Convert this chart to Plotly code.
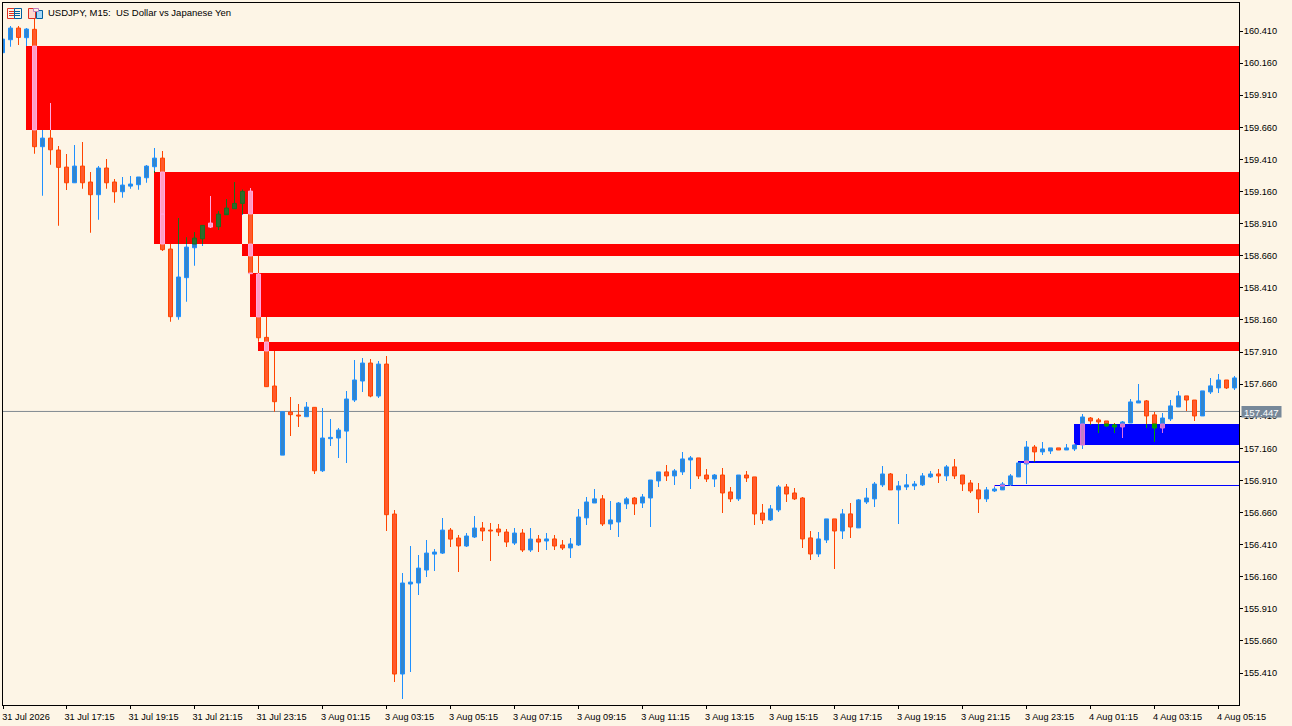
import plotly.graph_objects as go

# USDJPY M15 candles
opens = [
    160.241, 160.342, 160.433, 160.358, 160.423, 159.509, 159.576, 159.483, 159.350, 159.228,
    159.358, 159.234, 159.135, 159.343, 159.234, 159.158, 159.202, 159.213, 159.267, 159.353,
    159.420, 158.712, 158.185, 158.489, 158.722, 158.792, 158.914, 158.886, 158.979, 159.026,
    159.067, 159.163, 158.517, 158.024, 157.645, 157.107, 157.442, 157.419, 157.406, 157.479,
    156.985, 157.235, 157.240, 157.294, 157.536, 157.684, 157.824, 157.567, 157.816, 156.648,
    155.402, 156.103, 156.111, 156.212, 156.336, 156.344, 156.523, 156.461, 156.399, 156.469,
    156.539, 156.523, 156.531, 156.508, 156.422, 156.500, 156.368, 156.453, 156.438, 156.454,
    156.407, 156.384, 156.407, 156.618, 156.734, 156.766, 156.571, 156.586, 156.727, 156.773,
    156.734, 156.773, 156.906, 156.976, 156.945, 156.976, 157.069, 157.085, 156.952, 156.921,
    156.952, 156.820, 156.766, 156.952, 156.937, 156.656, 156.602, 156.680, 156.859, 156.812,
    156.773, 156.462, 156.337, 156.446, 156.610, 156.516, 156.649, 156.540, 156.742, 156.766,
    156.875, 156.960, 156.836, 156.859, 156.867, 156.875, 156.937, 156.960, 156.945, 157.015,
    156.952, 156.890, 156.836, 156.766, 156.828, 156.836, 156.875, 156.937, 157.038, 157.170,
    157.132, 157.139, 157.163, 157.147, 157.155, 157.186, 157.396, 157.381, 157.373, 157.342,
    157.326, 157.357, 157.513, 157.529, 157.420, 157.318, 157.389, 157.482, 157.568, 157.536,
    157.412, 157.599, 157.630, 157.692, 157.630,
]
closes = [
    160.347, 160.433, 160.360, 160.425, 159.509, 159.576, 159.485, 159.348, 159.228, 159.358,
    159.228, 159.135, 159.343, 159.228, 159.158, 159.210, 159.218, 159.273, 159.358, 159.420,
    158.707, 158.185, 158.494, 158.727, 158.797, 158.896, 158.883, 158.984, 159.031, 159.067,
    159.161, 158.520, 158.021, 157.640, 157.523, 157.445, 157.422, 157.411, 157.481, 156.985,
    157.240, 157.245, 157.302, 157.544, 157.692, 157.824, 157.567, 157.816, 156.643, 155.402,
    156.111, 156.118, 156.227, 156.344, 156.352, 156.523, 156.453, 156.399, 156.477, 156.539,
    156.516, 156.516, 156.508, 156.430, 156.500, 156.368, 156.453, 156.430, 156.454, 156.399,
    156.384, 156.415, 156.625, 156.742, 156.766, 156.571, 156.602, 156.734, 156.766, 156.727,
    156.781, 156.913, 156.976, 156.945, 156.984, 157.077, 157.085, 156.945, 156.921, 156.952,
    156.812, 156.766, 156.952, 156.929, 156.649, 156.602, 156.688, 156.859, 156.804, 156.766,
    156.454, 156.337, 156.454, 156.610, 156.516, 156.649, 156.547, 156.758, 156.773, 156.882,
    156.960, 156.836, 156.867, 156.875, 156.882, 156.945, 156.960, 156.945, 157.015, 156.945,
    156.882, 156.828, 156.766, 156.836, 156.843, 156.882, 156.945, 157.046, 157.170, 157.132,
    157.155, 157.163, 157.147, 157.163, 157.186, 157.404, 157.373, 157.365, 157.334, 157.326,
    157.365, 157.521, 157.529, 157.412, 157.318, 157.396, 157.490, 157.568, 157.536, 157.412,
    157.607, 157.646, 157.692, 157.630, 157.708,
]
highs = [
    160.347, 160.449, 160.449, 160.433, 160.508, 159.639, 159.849, 159.514, 159.452, 159.522,
    159.545, 159.311, 159.358, 159.413, 159.257, 159.273, 159.280, 159.273, 159.366, 159.498,
    159.475, 158.751, 158.953, 158.803, 158.844, 158.896, 159.125, 159.008, 159.101, 159.234,
    159.176, 159.187, 158.657, 158.183, 157.917, 157.445, 157.559, 157.505, 157.520, 157.479,
    157.474, 157.388, 157.318, 157.606, 157.847, 157.863, 157.855, 157.840, 157.879, 156.679,
    156.189, 156.399, 156.329, 156.446, 156.375, 156.617, 156.539, 156.484, 156.500, 156.632,
    156.586, 156.578, 156.570, 156.531, 156.539, 156.531, 156.539, 156.484, 156.501, 156.485,
    156.446, 156.462, 156.688, 156.781, 156.843, 156.797, 156.750, 156.742, 156.781, 156.781,
    156.804, 156.913, 156.976, 157.030, 156.999, 157.132, 157.100, 157.085, 156.999, 156.960,
    157.007, 156.859, 156.952, 156.984, 156.937, 156.727, 156.719, 156.875, 156.882, 156.851,
    156.781, 156.516, 156.508, 156.610, 156.610, 156.688, 156.734, 156.766, 156.851, 156.898,
    157.023, 156.968, 156.906, 156.960, 156.906, 156.968, 156.984, 156.999, 157.030, 157.077,
    156.952, 156.913, 156.890, 156.859, 156.867, 156.898, 156.960, 157.046, 157.217, 157.186,
    157.209, 157.163, 157.163, 157.194, 157.194, 157.427, 157.404, 157.396, 157.373, 157.350,
    157.373, 157.544, 157.661, 157.536, 157.443, 157.435, 157.536, 157.607, 157.568, 157.536,
    157.607, 157.708, 157.739, 157.692, 157.723,
]
lows = [
    160.241, 160.288, 160.301, 160.293, 159.454, 159.127, 159.369, 158.894, 159.171, 159.228,
    159.182, 158.839, 158.940, 159.182, 159.073, 159.112, 159.182, 159.174, 159.228, 159.306,
    158.696, 158.146, 158.161, 158.302, 158.582, 158.743, 158.875, 158.860, 158.979, 159.026,
    158.977, 158.520, 157.990, 157.640, 157.445, 157.107, 157.255, 157.326, 157.406, 156.960,
    156.975, 157.178, 157.084, 157.045, 157.520, 157.598, 157.557, 157.551, 156.516, 155.340,
    155.207, 155.418, 156.017, 156.157, 156.204, 156.336, 156.391, 156.196, 156.391, 156.461,
    156.438, 156.282, 156.477, 156.391, 156.407, 156.352, 156.352, 156.352, 156.368, 156.368,
    156.368, 156.306, 156.399, 156.563, 156.734, 156.555, 156.524, 156.470, 156.688, 156.641,
    156.695, 156.547, 156.859, 156.906, 156.875, 156.952, 156.843, 156.921, 156.898, 156.859,
    156.656, 156.742, 156.750, 156.898, 156.563, 156.571, 156.594, 156.664, 156.742, 156.758,
    156.384, 156.290, 156.314, 156.423, 156.220, 156.454, 156.462, 156.540, 156.727, 156.703,
    156.859, 156.836, 156.571, 156.836, 156.836, 156.867, 156.929, 156.890, 156.906, 156.921,
    156.828, 156.812, 156.656, 156.742, 156.820, 156.836, 156.867, 156.937, 156.882, 157.054,
    157.108, 157.116, 157.147, 157.147, 157.139, 157.155, 157.342, 157.279, 157.326, 157.279,
    157.241, 157.357, 157.513, 157.318, 157.209, 157.279, 157.373, 157.482, 157.451, 157.373,
    157.412, 157.583, 157.591, 157.622, 157.614,
]

# one tick every 8 bars
time_ticks = [
    "31 Jul 2026", "31 Jul 17:15", "31 Jul 19:15", "31 Jul 21:15", "31 Jul 23:15",
    "3 Aug 01:15", "3 Aug 03:15", "3 Aug 05:15", "3 Aug 07:15", "3 Aug 09:15",
    "3 Aug 11:15", "3 Aug 13:15", "3 Aug 15:15", "3 Aug 17:15", "3 Aug 19:15",
    "3 Aug 21:15", "3 Aug 23:15", "4 Aug 01:15", "4 Aug 03:15", "4 Aug 05:15",
]
price_ticks = [160.41, 160.16, 159.91, 159.66, 159.41, 159.16, 158.91, 158.66, 158.41, 158.16,
               157.91, 157.66, 157.41, 157.16, 156.91, 156.66, 156.41, 156.16, 155.91, 155.66, 155.41]
last_price = 157.447

# zones: first bar, last bar (None = runs to the right edge), top, bottom, kind
zone_start = [3, 19, 19, 30, 31, 32, 134, 127, 124]
zone_end = [None, None, 30, None, None, None, None, None, None]
zone_top = [160.293, 159.312, 159.312, 158.751, 158.525, 157.988, 157.349, 157.061, 156.874]
zone_bottom = [159.639, 158.985, 158.751, 158.658, 158.183, 157.918, 157.186, 157.046, 156.866]
zone_kind = ["red", "red", "red", "red", "red", "red", "blue", "blue", "blue"]

# the terminal xors candles with the zones, so colours change inside them
BG = "#FDF5E6"
FILL = {
    (True, None): "#3385CC", (False, None): "#FF5A2D",
    (True, "red"): "#2E6B2E", (False, "red"): "#FF9CC0",
    (True, "blue"): "#C47CC4", (False, "blue"): "#009A00",
}
EDGE = {
    (True, None): "#1E90FF", (False, None): "#FF4500",
    (True, "red"): "#1E6E1E", (False, "red"): "#FFA8E0",
    (True, "blue"): "#E070E0", (False, "blue"): "#00A000",
}

W, H = 1292, 726
L, R, T, B = 3, 53, 3, 21
PX_PER_BAR = 8
PX_PER_UNIT = 128.4
x0 = (L - 2.5) / PX_PER_BAR
x1 = x0 + (W - R - L) / PX_PER_BAR
y1 = 160.41 + (31 - T) / PX_PER_UNIT
y0 = 160.41 - (H - B - 31) / PX_PER_UNIT


def px(x):
    return (x - L) / (W - R - L)


def py(y):
    return 1 - (y - T) / (H - B - T)


def split_span(lo, hi, bar):
    # cut a price span at the zone edges and tag every piece with its zone kind
    active = [i for i in range(len(zone_kind))
              if bar >= zone_start[i] and (zone_end[i] is None or bar < zone_end[i])]
    cuts = {lo, hi}
    for i in active:
        for edge in (zone_top[i], zone_bottom[i]):
            if lo < edge < hi:
                cuts.add(edge)
    cuts = sorted(cuts)
    if len(cuts) == 1:
        cuts = [lo, hi]
    pieces = []
    for a, b in zip(cuts[:-1], cuts[1:]):
        mid = (a + b) / 2
        kind = None
        for i in active:
            if zone_bottom[i] <= mid <= zone_top[i]:
                kind = zone_kind[i]
        pieces.append((a, b, kind))
    return pieces


wicks = {k: ([], [], []) for k in FILL}
bodies = {k: ([], [], []) for k in FILL}
for bar, (o, h, l, c) in enumerate(zip(opens, highs, lows, closes)):
    up = c >= o
    for a, b, kind in split_span(l, h, bar):
        wicks[(up, kind)][0].append(bar)
        wicks[(up, kind)][1].append(a)
        wicks[(up, kind)][2].append(b - a)
    for a, b, kind in split_span(min(o, c), max(o, c), bar):
        bodies[(up, kind)][0].append(bar)
        bodies[(up, kind)][1].append(a)
        bodies[(up, kind)][2].append(b - a)

fig = go.Figure()
for key, (xs, base, size) in wicks.items():
    fig.add_trace(go.Bar(x=xs, base=base, y=size, width=1 / PX_PER_BAR, hoverinfo="skip",
                         marker=dict(color=EDGE[key], line=dict(width=0))))
for key, (xs, base, size) in bodies.items():
    fig.add_trace(go.Bar(x=xs, base=base, y=size, width=4 / PX_PER_BAR, hoverinfo="skip",
                         marker=dict(color=FILL[key], line=dict(color=EDGE[key], width=1))))

colours = {"red": "#FF0000", "blue": "#0000FF"}
for i, kind in enumerate(zone_kind):
    fig.add_shape(type="rect", layer="below", line_width=0, fillcolor=colours[kind],
                  x0=zone_start[i] - 1 / 16, x1=x1 if zone_end[i] is None else zone_end[i] - 1 / 16,
                  y0=zone_bottom[i], y1=zone_top[i])

# bid line and its tag on the price scale
fig.add_shape(type="line", layer="below", xref="paper", x0=0, x1=1, y0=last_price, y1=last_price,
              line=dict(color="#808890", width=1))
fig.add_shape(type="rect", xref="paper", x0=px(1241.5), x1=px(1281.5), yref="paper",
              y0=py(417.5), y1=py(406), line_width=0, fillcolor="#778899")
fig.add_annotation(xref="paper", yref="paper", x=px(1242), y=py(412), text="157.447", showarrow=False,
                   xanchor="left", yanchor="middle", font=dict(color="white", size=9.6, family="Liberation Sans"))

fig.add_annotation(xref="paper", yref="paper", x=px(46), y=py(13), text="USDJPY, M15:  US Dollar vs Japanese Yen",
                   showarrow=False, xanchor="left", yanchor="middle",
                   font=dict(color="black", size=9.5, family="Liberation Sans"))


def icon_rect(a, b, c, d, fill, line):
    fig.add_shape(type="rect", xref="paper", yref="paper", x0=px(a), x1=px(b), y0=py(d), y1=py(c),
                  fillcolor=fill, line=dict(color=line, width=1))


def icon_line(a, b, y, colour):
    fig.add_shape(type="line", xref="paper", yref="paper", x0=px(a), x1=px(b), y0=py(y), y1=py(y),
                  line=dict(color=colour, width=1))


# the two little toolbar icons in the corner
icon_rect(7.5, 14.5, 8.5, 18.5, BG, "#E03020")
icon_rect(14.5, 21.5, 8.5, 18.5, BG, "#0060A0")
for yy in (11.5, 13.5, 15.5):
    icon_line(9, 14, yy, "#E03020")
    icon_line(15, 20, yy, "#0060A0")
icon_rect(28.5, 35.5, 8.5, 18.5, "#FFD8D0", "#E03020")
icon_rect(36.5, 42.5, 10.5, 18.5, "#A8D8F8", "#0060A0")
icon_rect(33.5, 38.5, 8.5, 11.5, BG, "#C080C0")

# bottom frame of the chart window
fig.add_shape(type="line", xref="paper", yref="paper", x0=0, x1=1, y0=py(705.5), y1=py(705.5),
              line=dict(color="black", width=1))

# first tick sits just inside the left edge, bar 0 is half a pixel off the plot
tick_positions = [max(v, x0 + 0.001) for v in range(0, PX_PER_BAR * len(time_ticks), PX_PER_BAR)]

fig.update_layout(
    width=W, height=H, margin=dict(l=L, r=R, t=T, b=B, autoexpand=False),
    paper_bgcolor=BG, plot_bgcolor=BG, showlegend=False, barmode="overlay",
    font=dict(family="Liberation Sans", size=9.2, color="black"),
)
fig.update_xaxes(range=[x0, x1], tickvals=tick_positions, ticktext=time_ticks,
                 showgrid=False, zeroline=False, ticks="outside", ticklen=3, tickcolor="black",
                 showline=True, linecolor="black", linewidth=1, mirror=True, ticklabelshift=23,
                 tickangle=0, ticklabeloverflow="allow", automargin=False)
fig.update_yaxes(range=[y0, y1], side="right", tickvals=price_ticks, tickformat=".3f",
                 showgrid=False, zeroline=False, ticks="outside", ticklen=3, tickcolor="black",
                 ticklabelstandoff=-1,
                 showline=True, linecolor="black", linewidth=1, mirror=True, automargin=False)

fig.write_html("out.html", config={"displayModeBar": False},
               post_script="document.body.style.margin='0';document.body.style.overflow='hidden';")
